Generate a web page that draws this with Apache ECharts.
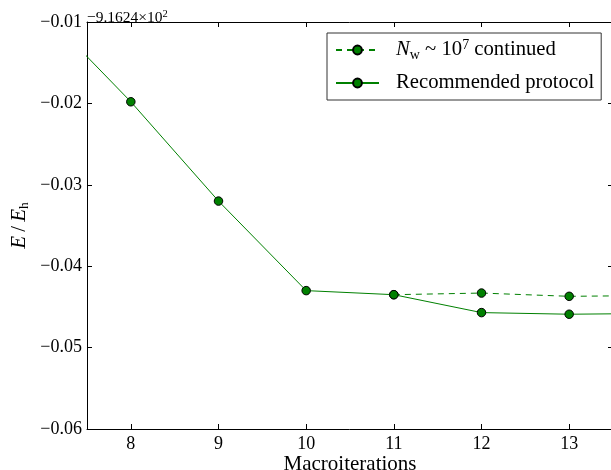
<!DOCTYPE html>
<html>
<head>
<meta charset="utf-8">
<script src="https://cdn.jsdelivr.net/npm/echarts@6/dist/echarts.min.js"></script>
<style>
  html, body { margin: 0; padding: 0; background: #fff; }
  #chart { width: 611px; height: 470px; }
</style>
</head>
<body>
<div id="chart"></div>
<script>
// Energy per macroiteration (offset by -916.24 Eh)
const iterations = [7, 8, 9, 10, 11, 12, 13, 14];
const recommended = [-0.0087, -0.0198, -0.0320, -0.0430, -0.0435, -0.0457, -0.0459, -0.0458];
const continuedIterations = [11, 12, 13, 14];
const continued = [-0.0435, -0.0433, -0.0437, -0.0436];

const xTicks = [8, 9, 10, 11, 12, 13];
const xTickLabels = ['8', '9', '10', '11', '12', '13'];
const yTicks = [-0.06, -0.05, -0.04, -0.03, -0.02, -0.01];
const yTickLabels = ['−0.06', '−0.05', '−0.04', '−0.03', '−0.02', '−0.01'];

const SERIF = '"Liberation Serif", "DejaVu Serif", serif';
const GREEN = '#008000';

function pairs(xs, ys) { return xs.map((x, i) => [x, ys[i]]); }
function lookup(ticks, labels, v) {
  const i = ticks.findIndex(t => Math.abs(t - v) < 1e-9);
  return i < 0 ? '' : labels[i];
}

const chart = echarts.init(document.getElementById('chart'), null, { renderer: 'canvas' });

const axisLine = { show: true, onZero: false, lineStyle: { color: '#000', width: 1 } };

chart.setOption({
  animation: false,
  backgroundColor: '#fff',
  title: {
    text: '−9.1624×10{sup|2}',
    left: 87,
    top: 9,
    padding: 0,
    textStyle: {
      fontFamily: SERIF, fontSize: 15.5, fontWeight: 'normal', color: '#000', lineHeight: 18,
      rich: { sup: { fontFamily: SERIF, fontSize: 10.5, lineHeight: 11, verticalAlign: 'top', color: '#000' } }
    }
  },
  grid: { left: 87, top: 22, width: 526, height: 407, containLabel: false, outerBoundsMode: 'none' },
  legend: {
    orient: 'vertical',
    left: 327,
    top: 33,
    padding: [5, 7, 5, 8],
    itemGap: 9,
    itemWidth: 43,
    itemHeight: 11,
    selectedMode: false,
    backgroundColor: '#fff',
    borderColor: '#333',
    borderWidth: 1,
    borderRadius: 0,
    data: ['continued', 'Recommended protocol'],
    formatter: name => name === 'continued'
      ? '{it|N}{sub|w} ~ 10{sup|7} continued'
      : 'Recommended protocol',
    textStyle: {
      fontFamily: SERIF, fontSize: 20.7, lineHeight: 24, color: '#000', padding: [0, 0, 0, 12],
      rich: {
        it: { fontFamily: SERIF, fontSize: 20.7, fontStyle: 'italic', color: '#000', lineHeight: 24 },
        sub: { fontFamily: SERIF, fontSize: 14, color: '#000', lineHeight: 14, verticalAlign: 'bottom' },
        sup: { fontFamily: SERIF, fontSize: 14, color: '#000', lineHeight: 14, verticalAlign: 'top' }
      }
    }
  },
  xAxis: [
    {
      type: 'value', position: 'bottom', min: 7.5, max: 13.5,
      axisLine,
      axisTick: { show: true, inside: true, length: 5, customValues: xTicks, lineStyle: { color: '#000' } },
      axisLabel: {
        show: true, customValues: xTicks, margin: 6,
        formatter: v => lookup(xTicks, xTickLabels, v),
        fontFamily: SERIF, fontSize: 18, color: '#000'
      },
      splitLine: { show: false },
      name: 'Macroiterations', nameLocation: 'middle', nameGap: 25, nameMoveOverlap: false,
      nameTextStyle: { fontFamily: SERIF, fontSize: 21, color: '#000' }
    },
    {
      type: 'value', position: 'top', min: 7.5, max: 13.5,
      axisLine,
      axisTick: { show: true, inside: true, length: 5, customValues: xTicks, lineStyle: { color: '#000' } },
      axisLabel: { show: false },
      splitLine: { show: false }
    }
  ],
  yAxis: [
    {
      type: 'value', position: 'left', min: -0.06, max: -0.01,
      axisLine,
      axisTick: { show: true, inside: true, length: 5, customValues: yTicks, lineStyle: { color: '#000' } },
      axisLabel: {
        show: true, customValues: yTicks, margin: 5,
        formatter: v => lookup(yTicks, yTickLabels, v),
        fontFamily: SERIF, fontSize: 18, color: '#000'
      },
      splitLine: { show: false },
      name: '{it|E}\u2009/\u2009{it|E}{sub|h}', nameLocation: 'middle', nameGap: 56, nameRotate: 90,
      nameMoveOverlap: false,
      nameTextStyle: {
        fontFamily: SERIF, fontSize: 21, color: '#000', lineHeight: 24,
        rich: {
          it: { fontFamily: SERIF, fontSize: 21, fontStyle: 'italic', color: '#000', lineHeight: 24 },
          sub: { fontFamily: SERIF, fontSize: 13.5, color: '#000', lineHeight: 13, verticalAlign: 'bottom' }
        }
      }
    },
    {
      type: 'value', position: 'right', min: -0.06, max: -0.01,
      axisLine,
      axisTick: { show: true, inside: true, length: 5, customValues: yTicks, lineStyle: { color: '#000' } },
      axisLabel: { show: false },
      splitLine: { show: false }
    }
  ],
  series: [
    {
      name: 'continued',
      type: 'line',
      xAxisIndex: 0, yAxisIndex: 0,
      data: pairs(continuedIterations, continued),
      clip: true,
      symbol: 'circle', symbolSize: 8.5,
      itemStyle: { color: GREEN, borderColor: '#000', borderWidth: 1 },
      lineStyle: { color: GREEN, width: 1, type: [6, 5] },
      emphasis: { disabled: true },
      silent: true,
      z: 2
    },
    {
      name: 'Recommended protocol',
      type: 'line',
      xAxisIndex: 0, yAxisIndex: 0,
      data: pairs(iterations, recommended),
      clip: true,
      symbol: 'circle', symbolSize: 8.5,
      itemStyle: { color: GREEN, borderColor: '#000', borderWidth: 1 },
      lineStyle: { color: GREEN, width: 1 },
      emphasis: { disabled: true },
      silent: true,
      z: 3
    }
  ]
});
</script>
</body>
</html>
